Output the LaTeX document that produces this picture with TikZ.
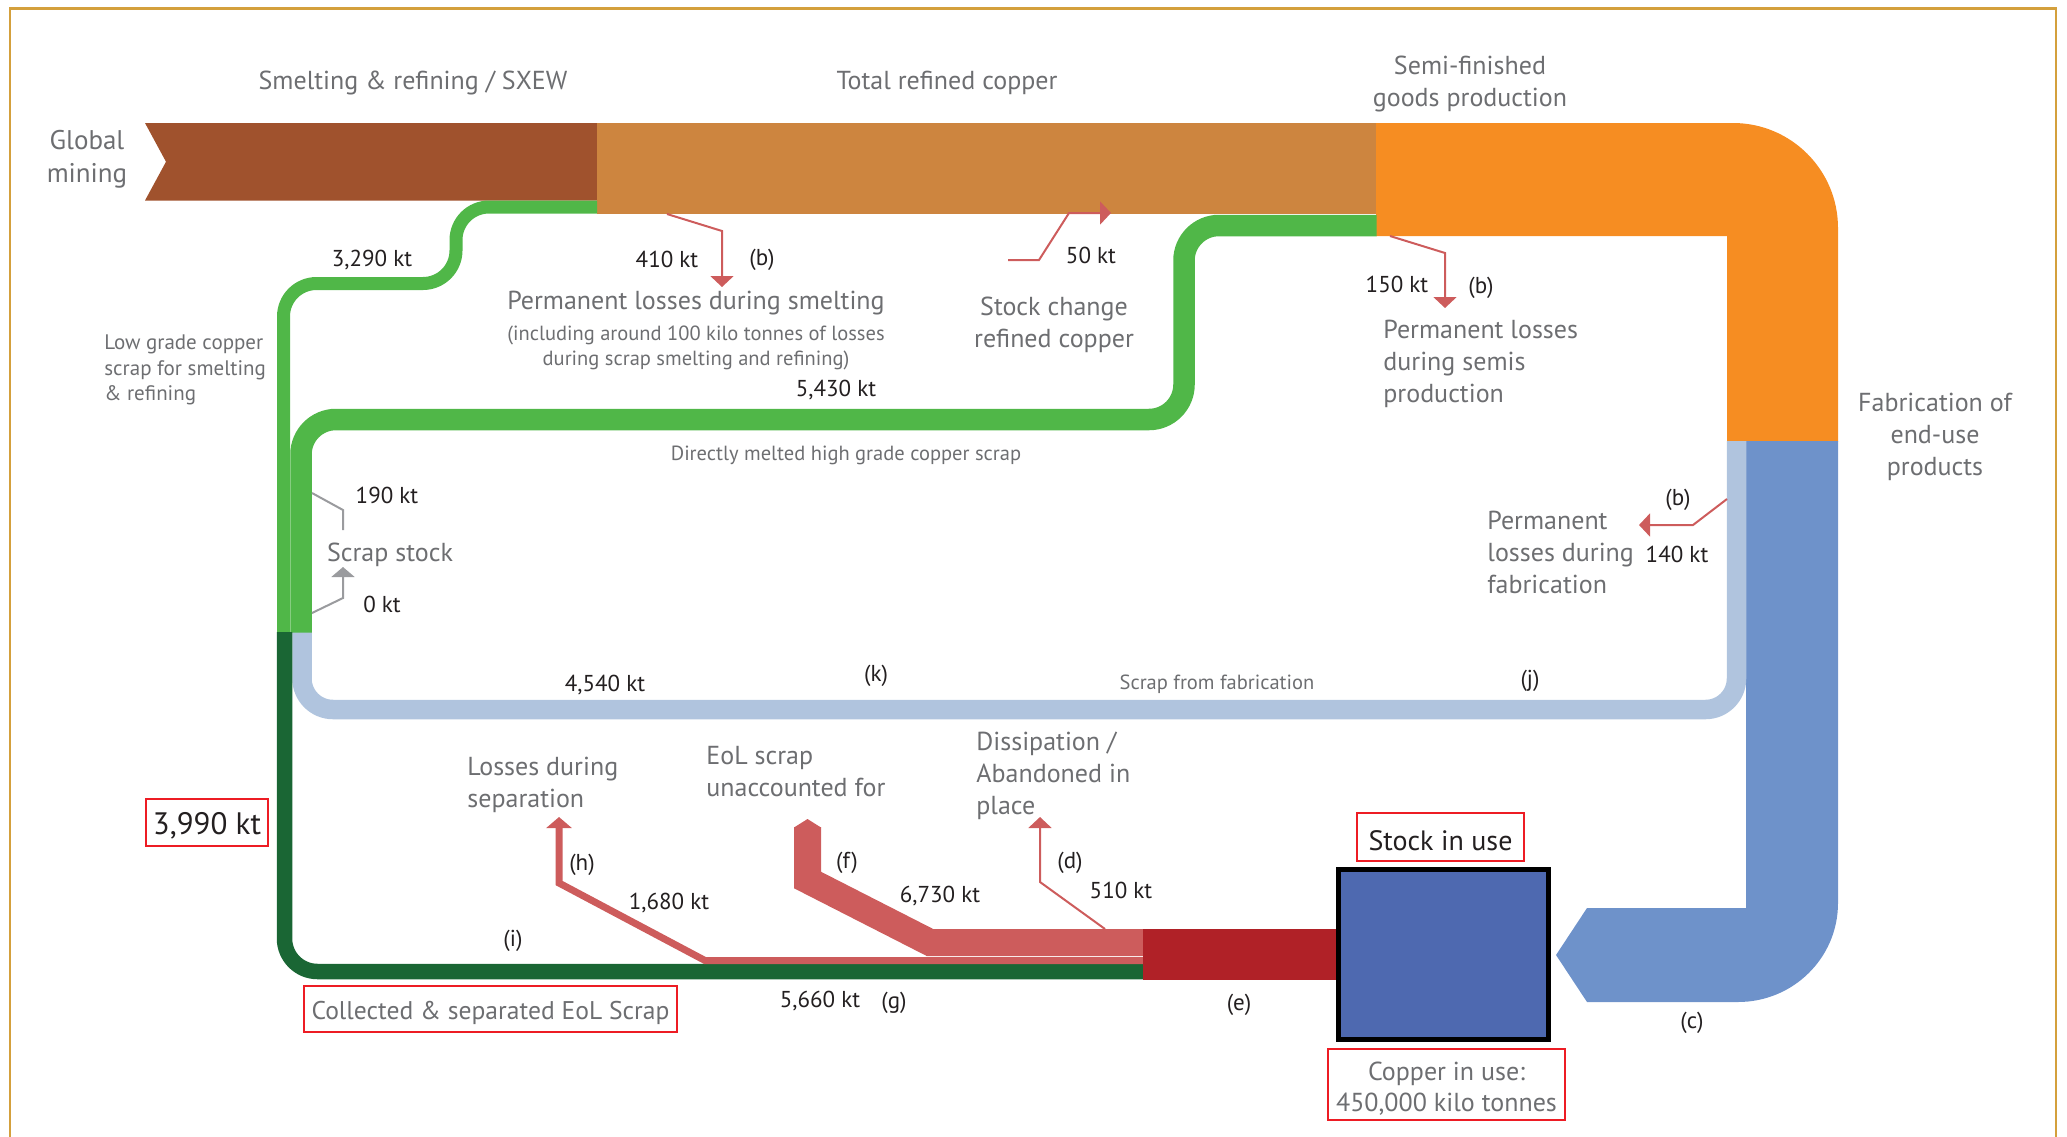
\documentclass[tikz,border=0pt]{standalone}
\usepackage{fontspec}
\setmainfont{PT Sans}
\usetikzlibrary{arrows.meta}
\definecolor{mining}{HTML}{A0522D}
\definecolor{refined}{HTML}{CD853F}
\definecolor{semis}{HTML}{F68D22}
\definecolor{fab}{HTML}{6E92CA}
\definecolor{ltblue}{HTML}{B0C4DE}
\definecolor{grn}{HTML}{50B748}
\definecolor{dkgreen}{HTML}{1A6634}
\definecolor{pinkc}{HTML}{CD5C5C}
\definecolor{dkred}{HTML}{B02127}
\definecolor{stockblue}{HTML}{4E69B0}
\definecolor{labgray}{HTML}{6D6E71}
\definecolor{numblack}{HTML}{231F20}
\definecolor{linegray}{HTML}{9A9B9E}
\definecolor{gold}{HTML}{D4A03C}
\definecolor{boxred}{HTML}{ED1C24}
\tikzset{
  lbl/.style={inner sep=0pt, yshift=-1.3pt, text=labgray, font=\fontsize{13}{16}\selectfont},
  sml/.style={inner sep=0pt, yshift=-1.3pt, text=labgray, font=\fontsize{10.25}{12.5}\selectfont},
  num/.style={inner sep=0pt, yshift=-1.3pt, text=numblack, font=\fontsize{11.5}{14}\selectfont},
  lossarrow/.style={draw=pinkc, line width=1pt, -{Triangle[width=11.5pt,length=5.5pt]}},
  grayline/.style={draw=linegray, line width=1pt},
  redbox/.style={draw=boxred, line width=1.25pt, inner sep=0pt},
}
\begin{document}
\begin{tikzpicture}[x=0.5pt,y=-0.5pt]
\useasboundingbox (0,0) rectangle (2067,1136);
% frame
\draw[gold, line width=1.25pt] (10,1140) -- (10,8.5) -- (2056,8.5) -- (2056,1140);

% main bands
\fill[mining] (145,123) -- (597,123) -- (597,200.5) -- (145,200.5) -- (166,161.75) -- cycle;
\fill[refined] (596.5,123) rectangle (1376.5,214);
\fill[semis] (1376,123) -- (1733,123) .. controls (1791,123) and (1838,170) .. (1838,228) -- (1838,441.5) -- (1727,441.5) -- (1727,236) -- (1376,236) -- cycle;
\fill[fab] (1746,441) -- (1838,441) -- (1838,903) .. controls (1838,958) and (1793,1002) .. (1738,1002) -- (1587,1002) -- (1556,955) -- (1587,908) -- (1746,908) -- cycle;

% scrap loops
\draw[ltblue, line width=9.75pt, rounded corners=15.5pt] (1736.5,441) -- (1736.5,709.5) -- (302,709.5) -- (302,632);
\draw[grn, line width=6.5pt, rounded corners=16.5pt] (597,207) -- (456,207) -- (456,283.5) -- (283.5,283.5) -- (283.5,632.5);
\draw[grn, line width=10.75pt, rounded corners=17.5pt] (1376.5,225.5) -- (1184,225.5) -- (1184,419.5) -- (301,419.5) -- (301,632.5);
\draw[dkgreen, line width=7.75pt, rounded corners=16.5pt] (284.5,632) -- (284.5,971.5) -- (1143.5,971.5);

% end-of-life flows
\draw[pinkc, line width=13.5pt] (1143.5,942.5) -- (930,942.5) -- (807.5,880) -- (807.5,827);
\fill[pinkc] (794,827.5) -- (807.5,819) -- (821,827.5) -- cycle;
\draw[pinkc, line width=3.5pt, -{Triangle[width=12.5pt,length=5.5pt]}] (1143.5,960.5) -- (705,960.5) -- (559,883) -- (559,817);
\fill[dkred] (1143,929) rectangle (1340,980);
\node[draw=black, fill=stockblue, line width=2.5pt, minimum width=105pt, minimum height=85pt, inner sep=0pt] (stock) at (1443.5,954.5) {};

% loss arrows
\draw[lossarrow] (667,214) -- (722,231) -- (722,287);
\draw[lossarrow] (1390,236) -- (1445,253) -- (1445,308);
\draw[lossarrow] (1727,499) -- (1693,525) -- (1639,525);
\draw[lossarrow] (1008,260) -- (1039,260) -- (1069,213) -- (1111,213);
\draw[lossarrow] (1105,929) -- (1040,882) -- (1040,817);
\draw[grayline] (312,493) -- (343,510) -- (343,530);
\draw[grayline, -{Triangle[width=11.5pt,length=5pt]}] (312,613) -- (343,598) -- (343,567);

% labels
\node[lbl, align=center, font=\fontsize{13.5}{16.5}\selectfont] (globalmining) at (87,156.5) {Global\\mining};
\node[lbl] (smelting) at (413,80) {Smelting \& refining / SXEW};
\node[lbl] (totalref) at (947,80) {Total refined copper};
\node[lbl, align=center] (semisgoods) at (1470,81) {Semi-finished\\goods production};
\node[num] (n3290) at (372,257) {3,290 kt};
\node[num] (n410) at (667,257) {410 kt};
\node[num] (b1) at (762,257) {(b)};
\node[num] (n50) at (1091,253) {50 kt};
\node[lbl, align=center] (stockchange) at (1054,322.5) {Stock change\\refined copper};
\node[num] (n150) at (1397,282) {150 kt};
\node[num] (b2) at (1481,285) {(b)};
\node[lbl] (permsmelt) at (696,300) {Permanent losses during smelting};
\node[sml, align=center] (incl) at (696,345.5) {(including around 100 kilo tonnes of losses\\during scrap smelting and refining)};
\node[lbl, align=left, anchor=west] (permsemis) at (1383,361) {Permanent losses\\during semis\\production};
\node[lbl, align=left, anchor=west, font=\fontsize{10.5}{12.75}\selectfont] (lowgrade) at (104,367.5) {Low grade copper\\scrap for smelting\\\& refining};
\node[num] (n5430) at (836,387) {5,430 kt};
\node[lbl, align=center] (fabeu) at (1935,434.5) {Fabrication of\\end-use\\products};
\node[sml] (directly) at (846,453) {Directly melted high grade copper scrap};
\node[num] (n190) at (387,493) {190 kt};
\node[lbl] (scrapstock) at (390,552) {Scrap stock};
\node[num] (n0) at (382,602) {0 kt};
\node[num] (b3) at (1678,497) {(b)};
\node[num] (n140) at (1677,552) {140 kt};
\node[lbl, align=left, anchor=west] (permfab) at (1487,550) {Permanent\\losses during\\fabrication};
\node[num] (n4540) at (605,682) {4,540 kt};
\node[num] (k) at (876,673) {(k)};
\node[sml] (scrapfab) at (1217,682) {Scrap from fabrication};
\node[num] (j) at (1530,678) {(j)};
\node[lbl, align=left, anchor=west] (lossessep) at (467,782) {Losses during\\separation};
\node[lbl, align=left, anchor=west] (eolun) at (706,769) {EoL scrap\\unaccounted for};
\node[lbl, align=left, anchor=west] (dissip) at (976,773.5) {Dissipation /\\Abandoned in\\place};
\node[num] (h) at (582,862) {(h)};
\node[num] (n1680) at (669,900) {1,680 kt};
\node[num] (f) at (847,860) {(f)};
\node[num] (n6730) at (940,893) {6,730 kt};
\node[num] (d) at (1070,860) {(d)};
\node[num] (n510) at (1121,888) {510 kt};
\node[num] (i) at (513,938) {(i)};
\node[num] (n5660) at (820,998) {5,660 kt};
\node[num] (g) at (894,1000) {(g)};
\node[num] (e) at (1239,1002) {(e)};
\node[num] (c) at (1692,1020) {(c)};

% boxed labels
\node[redbox, minimum width=61pt, minimum height=23.5pt] (b3990) at (207,822.5) {};
\node[num, yshift=-0.4pt, font=\fontsize{15.5}{18}\selectfont] (t3990) at (b3990.center) {3,990 kt};
\node[redbox, minimum width=186.5pt, minimum height=23pt] (collected) at (490.5,1009) {};
\node[lbl, font=\fontsize{12.8}{16}\selectfont] (tcollected) at (490.5,1010) {Collected \& separated EoL Scrap};
\node[redbox, minimum width=83.5pt, minimum height=24pt] (stockinuse) at (1440.5,837) {};
\node[num, font=\fontsize{14}{17}\selectfont] (tstockinuse) at (1440.5,838.5) {Stock in use};
\node[redbox, minimum width=118.5pt, minimum height=35.5pt] (copperinuse) at (1446.5,1084.5) {};
\node[lbl, align=center, font=\fontsize{13}{15.5}\selectfont] (tcopperinuse) at (1446.5,1086.5) {Copper in use:\\450,000 kilo tonnes};
\end{tikzpicture}
\end{document}
